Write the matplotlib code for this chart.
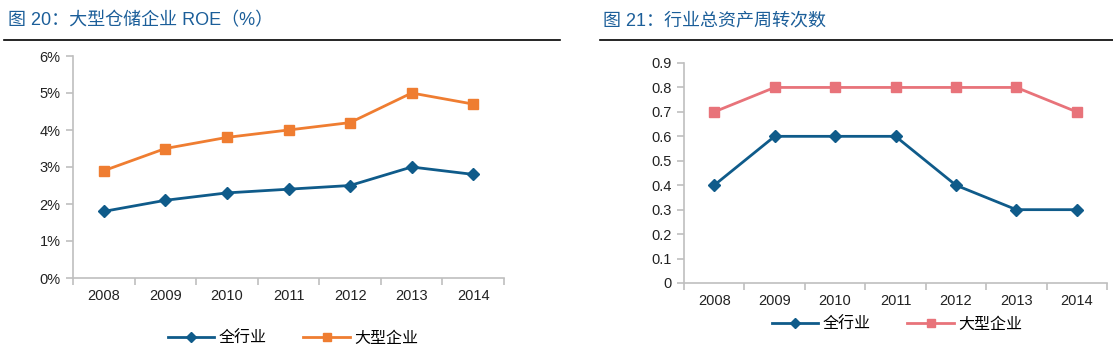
import matplotlib.pyplot as plt
from matplotlib.lines import Line2D
from matplotlib.ticker import FixedLocator, NullFormatter

plt.rcParams['font.family'] = ['Liberation Sans', 'Noto Sans CJK SC', 'DejaVu Sans']

years = ['2008', '2009', '2010', '2011', '2012', '2013', '2014']

# 图 20: ROE (%)
roe_all = [1.8, 2.1, 2.3, 2.4, 2.5, 3.0, 2.8]
roe_large = [2.9, 3.5, 3.8, 4.0, 4.2, 5.0, 4.7]

# 图 21: 总资产周转次数
turn_all = [0.4, 0.6, 0.6, 0.6, 0.4, 0.3, 0.3]
turn_large = [0.7, 0.8, 0.8, 0.8, 0.8, 0.8, 0.7]

BLUE = '#0F5B8A'
ORANGE = '#EF7D31'
PINK = '#E8737A'
TITLE = '#1B5E99'
GRAY = '#BFBFBF'

W, H = 1113, 354
fig = plt.figure(figsize=(W / 100, H / 100), dpi=100)


def px_axes(x0, y_top, x1, y_bot):
    return fig.add_axes([x0 / W, (H - y_bot) / H, (x1 - x0) / W, (y_bot - y_top) / H])


def style(ax):
    for s in ['top', 'right']:
        ax.spines[s].set_visible(False)
    for s in ['left', 'bottom']:
        ax.spines[s].set_color(GRAY)
        ax.spines[s].set_linewidth(1.2)
    ax.set_xlim(-0.5, len(years) - 0.5)
    ax.set_xticks(list(range(len(years))))
    ax.set_xticklabels(years)
    ax.xaxis.set_minor_locator(FixedLocator([i - 0.5 for i in range(len(years) + 1)]))
    ax.xaxis.set_minor_formatter(NullFormatter())
    ax.tick_params(axis='x', which='major', length=0, pad=8, labelsize=10.5, colors='#222222')
    ax.tick_params(axis='x', which='minor', length=5, color=GRAY, width=1.2)
    ax.tick_params(axis='y', length=5, color=GRAY, width=1.2, labelsize=10.5, colors='#222222', pad=4)
    for lab in ax.get_yticklabels() + ax.get_xticklabels():
        lab.set_color('#222222')


def add_legend(c1, c2, cx, cy):
    handles = [Line2D([], [], color=c1, lw=2.0, marker='D', ms=5),
               Line2D([], [], color=c2, lw=2.0, marker='s', ms=5.5)]
    fig.legend(handles, ['全行业', '大型企业'], loc='center', bbox_to_anchor=(cx / W, 1 - cy / H),
               ncol=2, frameon=False, fontsize=11.5, handlelength=2.9, columnspacing=2.3,
               handletextpad=0.3)


x = list(range(len(years)))

# left chart
ax1 = px_axes(73, 56, 504, 278)
ax1.plot(x, roe_all, color=BLUE, lw=2.0, marker='D', ms=6.5)
ax1.plot(x, roe_large, color=ORANGE, lw=2.0, marker='s', ms=7.5)
ax1.set_ylim(0, 6)
ax1.set_yticks(range(0, 7))
ax1.set_yticklabels([f'{v}%' for v in range(0, 7)])
style(ax1)
add_legend(BLUE, ORANGE, 293, 338)

# right chart
ax2 = px_axes(684, 63, 1107, 283)
ax2.plot(x, turn_all, color=BLUE, lw=2.0, marker='D', ms=6.5)
ax2.plot(x, turn_large, color=PINK, lw=2.0, marker='s', ms=7.5)
ax2.set_ylim(0, 0.9)
yt = [i / 10 for i in range(10)]
ax2.set_yticks(yt)
ax2.set_yticklabels(['0'] + [f'{v:.1f}' for v in yt[1:]])
style(ax2)
add_legend(BLUE, PINK, 897, 324)

# titles and separators
fig.text(8 / W, 1 - 21 / H, '图 20：大型仓储企业 ROE（%）', color=TITLE, fontsize=13, va='center')
fig.text(603 / W, 1 - 21 / H, '图 21：行业总资产周转次数', color=TITLE, fontsize=13, va='center')
fig.add_artist(Line2D([4 / W, 560 / W], [1 - 40 / H, 1 - 40 / H], color='black', lw=1.2))
fig.add_artist(Line2D([600 / W, 1 - 0.5 / W], [1 - 40 / H, 1 - 40 / H], color='black', lw=1.2))

fig.savefig('out.png', dpi=100)
